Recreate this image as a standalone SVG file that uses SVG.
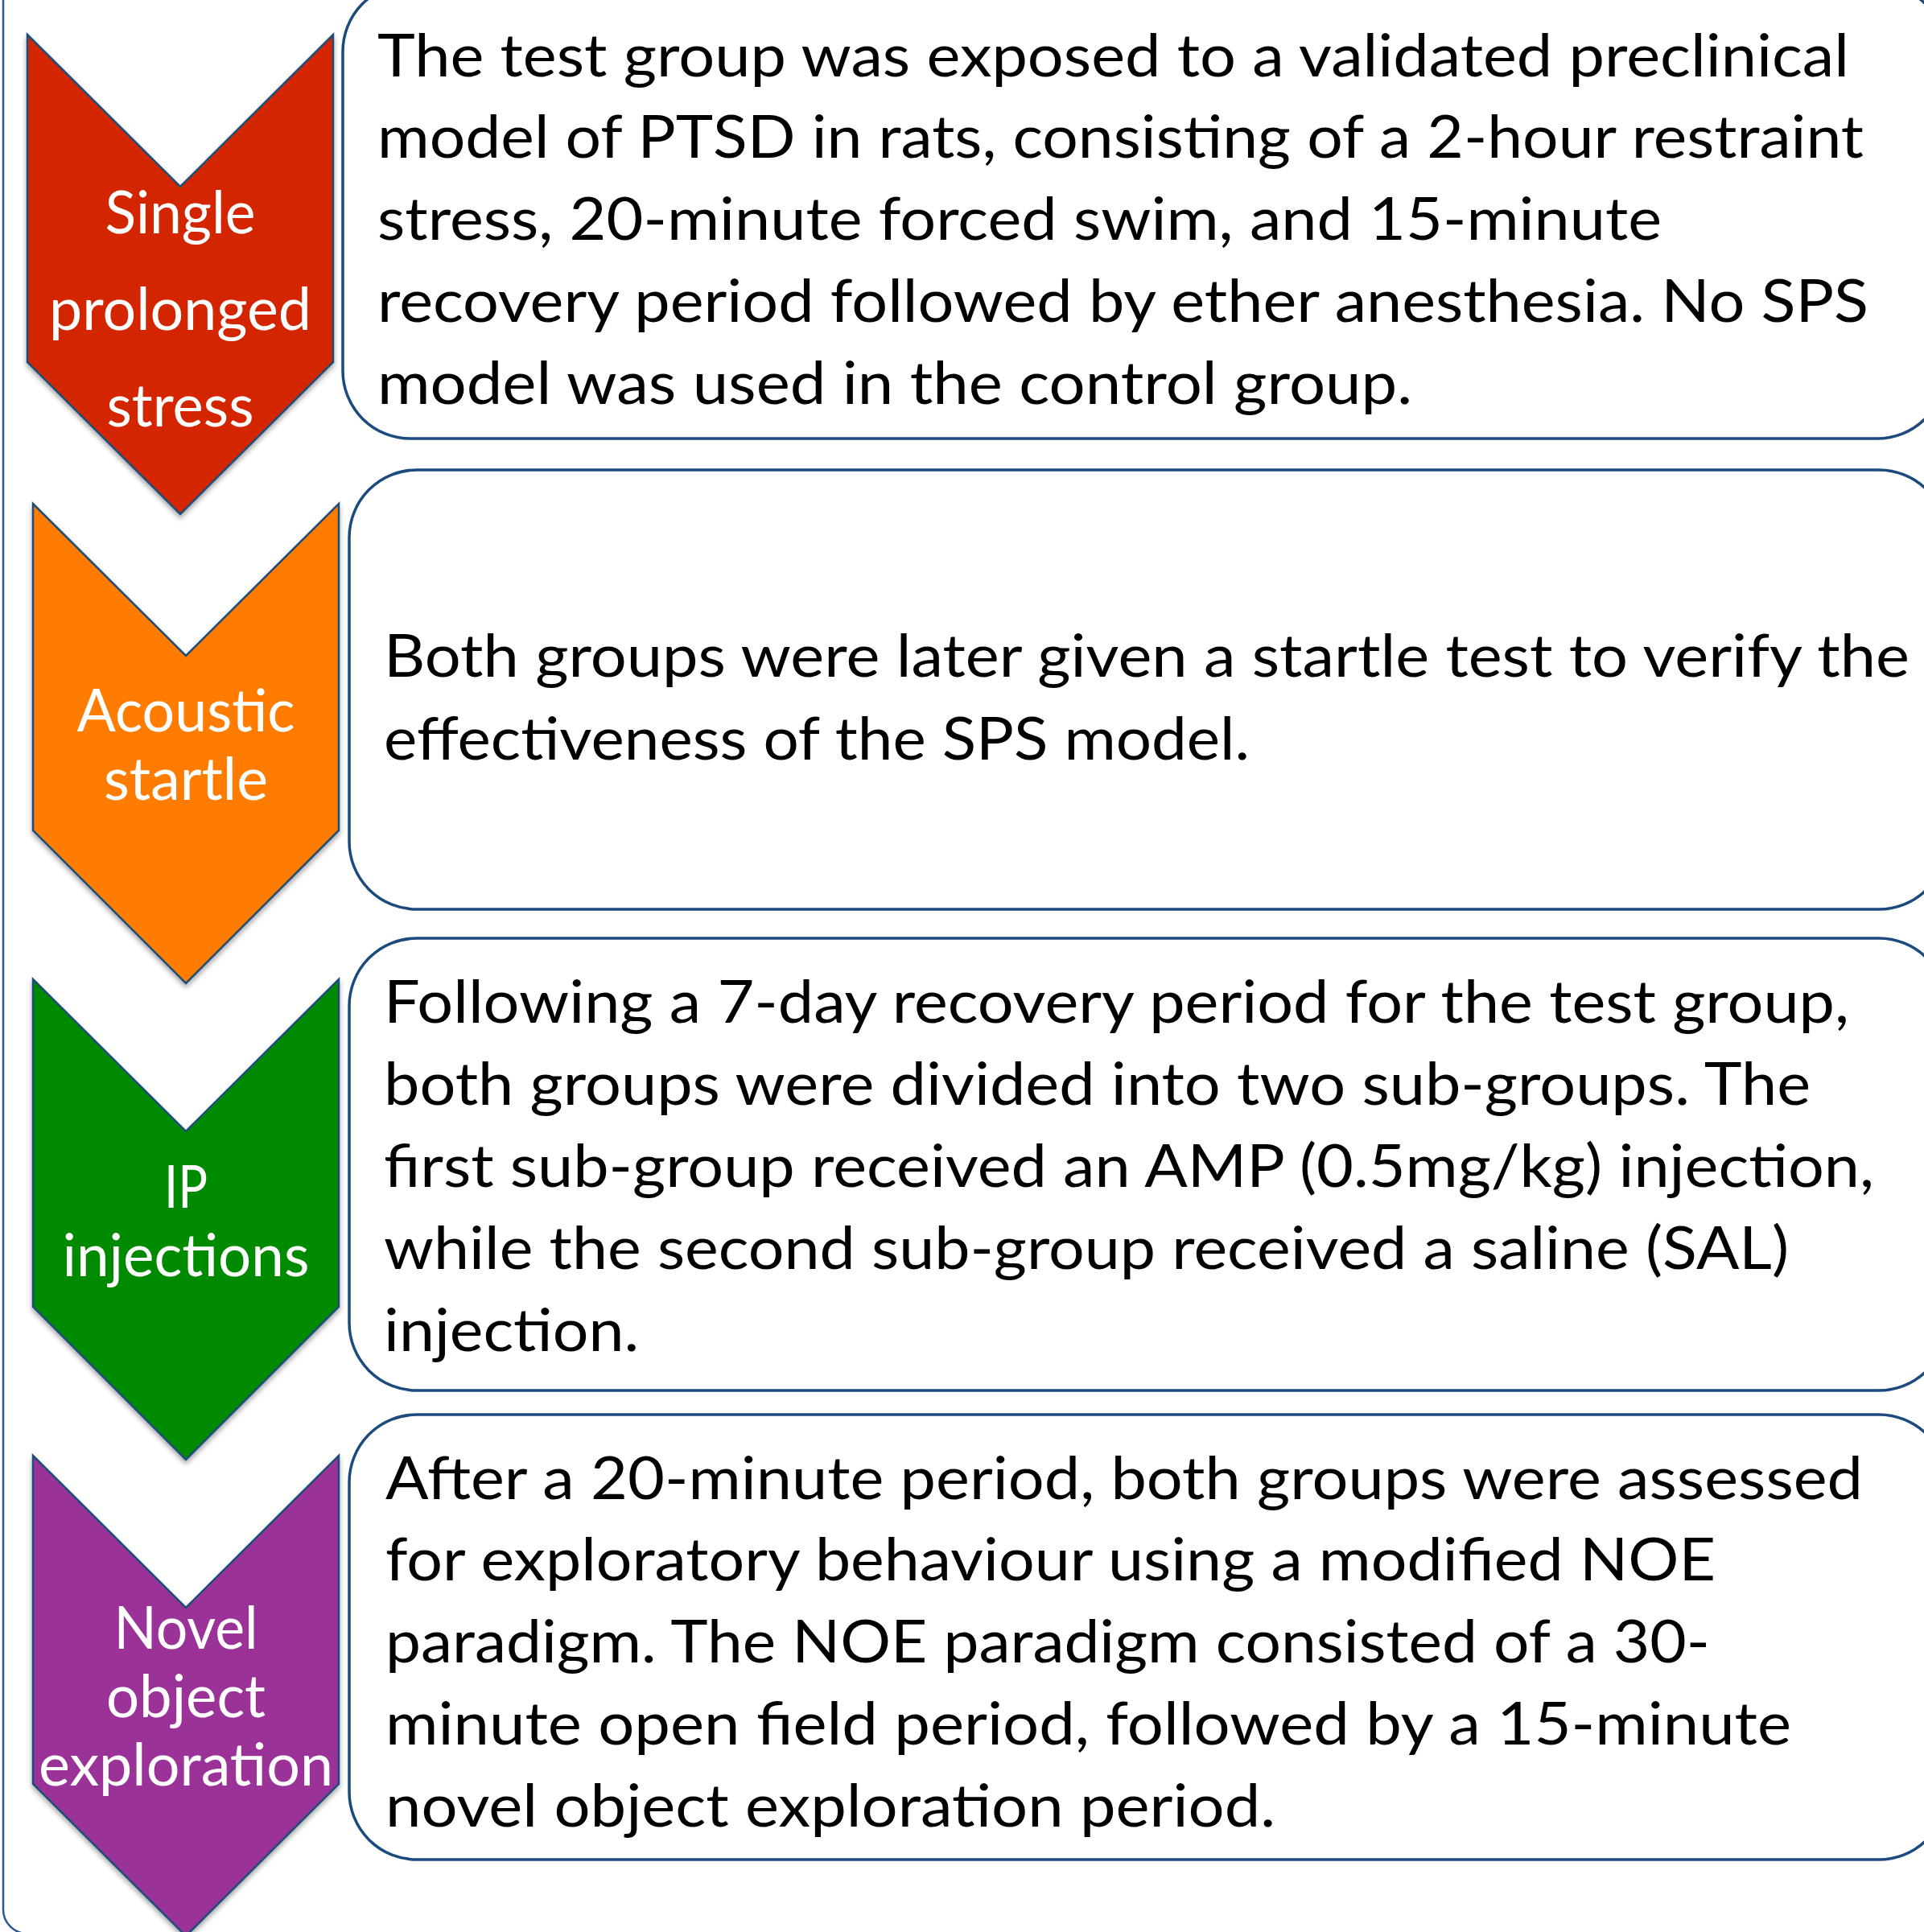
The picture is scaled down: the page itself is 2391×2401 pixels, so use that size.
<svg xmlns="http://www.w3.org/2000/svg" width="2391" height="2401" viewBox="0 0 2391 2401">
<defs>
<filter id="sh" x="-10%" y="-10%" width="120%" height="120%">
<feDropShadow dx="0" dy="4" stdDeviation="3" flood-color="#000" flood-opacity="0.35"/>
</filter>
</defs>
<style>
.frame{fill:none;stroke:#2A5A96;stroke-width:2.5}
.chev{stroke:#1F4E79;stroke-width:2.5;stroke-linejoin:miter;filter:url(#sh)}
.box{fill:#fff;stroke:#1B4B7E;stroke-width:3.5}
.lbl{font-family:Lato,"Open Sans","Liberation Sans",sans-serif;font-size:74px;fill:#fff;text-anchor:middle}
.txt{font-family:Lato,"Open Sans","Liberation Sans",sans-serif;font-size:74px;fill:#000}
</style>
<rect width="2391" height="2401" fill="#fff"/>
<rect class="frame" x="4" y="-60" width="3000" height="2463" rx="30" ry="30"/>
<g id="connectors"></g>

<g id="step1">
<polygon class="chev" fill="#D32800" points="34,43 224,232 414,43 414,450 224,639 34,450"/>
<text class="lbl" x="224" y="290" textLength="187" lengthAdjust="spacingAndGlyphs">Single</text>
<text class="lbl" x="224" y="410" textLength="326" lengthAdjust="spacingAndGlyphs">prolonged</text>
<text class="lbl" x="224" y="530" textLength="183" lengthAdjust="spacingAndGlyphs">stress</text>
</g>
<g id="desc1">
<rect class="box" x="426" y="-20" width="1991" height="565" rx="84" ry="84"/>
<text class="txt" x="469" y="95" textLength="1829" lengthAdjust="spacingAndGlyphs">The test group was exposed to a validated preclinical</text>
<text class="txt" x="469" y="196" textLength="1847" lengthAdjust="spacingAndGlyphs">model of PTSD in rats, consisting of a 2-hour restraint</text>
<text class="txt" x="469" y="298" textLength="1596" lengthAdjust="spacingAndGlyphs">stress, 20-minute forced swim, and 15-minute</text>
<text class="txt" x="469" y="400" textLength="1853" lengthAdjust="spacingAndGlyphs">recovery period followed by ether anesthesia. No SPS</text>
<text class="txt" x="469" y="502" textLength="1286" lengthAdjust="spacingAndGlyphs">model was used in the control group.</text>
</g>

<g id="step2">
<polygon class="chev" fill="#FF7C00" points="41,626 231,815 421,626 421,1032 231,1222 41,1032"/>
<text class="lbl" x="231" y="909" textLength="271" lengthAdjust="spacingAndGlyphs">Acoustic</text>
<text class="lbl" x="231" y="994" textLength="204" lengthAdjust="spacingAndGlyphs">startle</text>
</g>
<g id="desc2">
<rect class="box" x="434" y="584" width="1985" height="546" rx="84" ry="84"/>
<text class="txt" x="477" y="841" textLength="1896" lengthAdjust="spacingAndGlyphs">Both groups were later given a startle test to verify the</text>
<text class="txt" x="477" y="944" textLength="1076" lengthAdjust="spacingAndGlyphs">effectiveness of the SPS model.</text>
</g>

<g id="step3">
<polygon class="chev" fill="#008A00" points="41,1217 231,1406 421,1217 421,1624 231,1814 41,1624"/>
<text class="lbl" x="231" y="1501" textLength="54" lengthAdjust="spacingAndGlyphs">IP</text>
<text class="lbl" x="231" y="1586" textLength="307" lengthAdjust="spacingAndGlyphs">injections</text>
</g>
<g id="desc3">
<rect class="box" x="434" y="1166" width="1985" height="562" rx="84" ry="84"/>
<text class="txt" x="477" y="1271" textLength="1821" lengthAdjust="spacingAndGlyphs">Following a 7-day recovery period for the test group,</text>
<text class="txt" x="477" y="1373" textLength="1773" lengthAdjust="spacingAndGlyphs">both groups were divided into two sub-groups. The</text>
<text class="txt" x="477" y="1475" textLength="1852" lengthAdjust="spacingAndGlyphs">first sub-group received an AMP (0.5mg/kg) injection,</text>
<text class="txt" x="477" y="1577" textLength="1746" lengthAdjust="spacingAndGlyphs">while the second sub-group received a saline (SAL)</text>
<text class="txt" x="477" y="1679" textLength="317" lengthAdjust="spacingAndGlyphs">injection.</text>
</g>

<g id="step4">
<polygon class="chev" fill="#9B3297" points="41,1809 231,1998 421,1809 421,2217 231,2406 41,2217"/>
<text class="lbl" x="231" y="2049" textLength="179" lengthAdjust="spacingAndGlyphs">Novel</text>
<text class="lbl" x="231" y="2134" textLength="198" lengthAdjust="spacingAndGlyphs">object</text>
<text class="lbl" x="231" y="2219" textLength="366" lengthAdjust="spacingAndGlyphs">exploration</text>
</g>
<g id="desc4">
<rect class="box" x="434" y="1758" width="1985" height="553" rx="84" ry="84"/>
<text class="txt" x="479" y="1863" textLength="1836" lengthAdjust="spacingAndGlyphs">After a 20-minute period, both groups were assessed</text>
<text class="txt" x="479" y="1964" textLength="1653" lengthAdjust="spacingAndGlyphs">for exploratory behaviour using a modified NOE</text>
<text class="txt" x="479" y="2066" textLength="1646" lengthAdjust="spacingAndGlyphs">paradigm. The NOE paradigm consisted of a 30-</text>
<text class="txt" x="479" y="2168" textLength="1747" lengthAdjust="spacingAndGlyphs">minute open field period, followed by a 15-minute</text>
<text class="txt" x="479" y="2270" textLength="1106" lengthAdjust="spacingAndGlyphs">novel object exploration period.</text>
</g>
</svg>
